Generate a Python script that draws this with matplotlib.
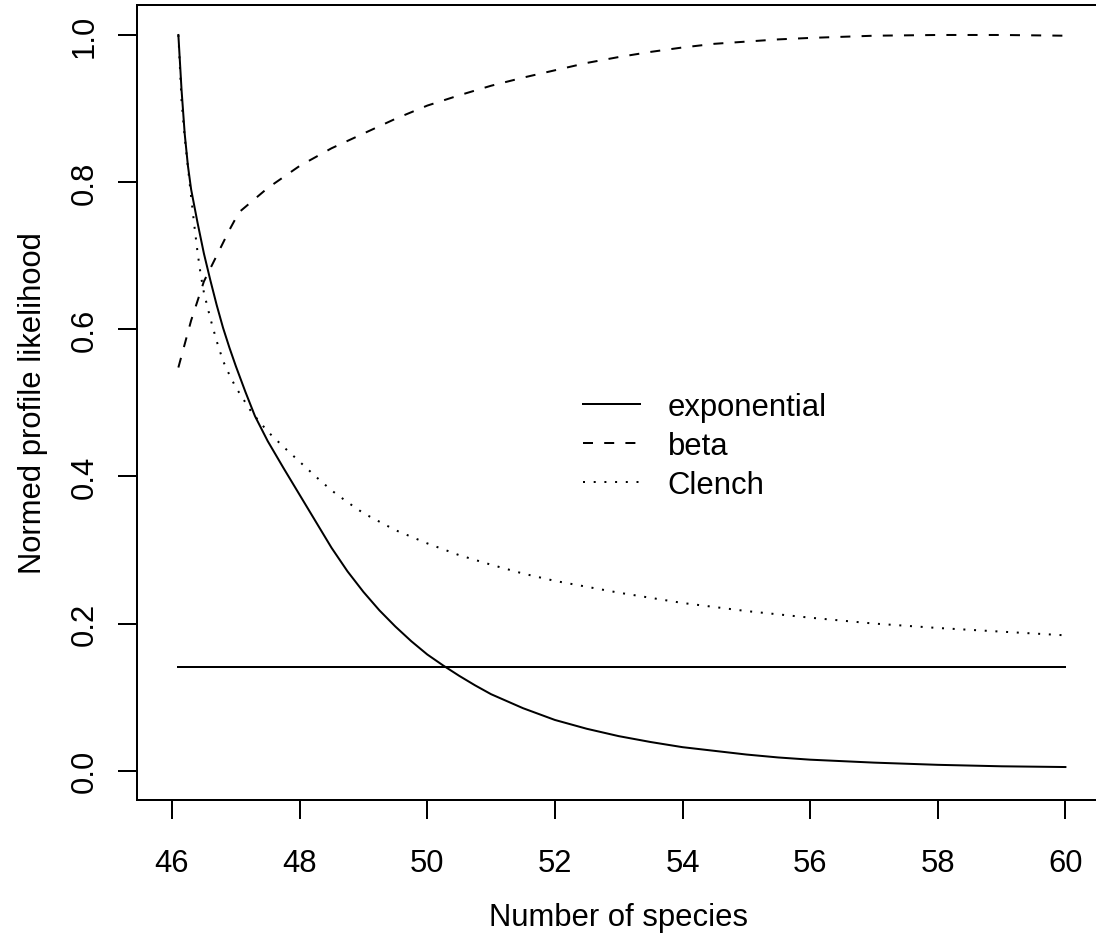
import matplotlib
matplotlib.use("Agg")
import matplotlib.pyplot as plt

plt.rcParams['font.family'] = ['Liberation Sans', 'DejaVu Sans']

# ---- data ----
exp_x = [46.1, 46.15, 46.2, 46.25, 46.3, 46.4, 46.5, 46.6, 46.7, 46.8, 46.9, 47.0,
         47.15, 47.3, 47.5, 47.75, 48.0, 48.25, 48.5, 48.75, 49.0, 49.25, 49.5,
         49.75, 50.0, 50.25, 50.5, 50.75, 51.0, 51.5, 52.0, 52.5, 53.0, 53.5, 54.0,
         54.5, 55.0, 55.5, 56.0, 57.0, 58.0, 59.0, 60.0]
exp_y = [1.0, 0.925, 0.865, 0.822, 0.79, 0.745, 0.703, 0.667, 0.633, 0.602, 0.575,
         0.550, 0.515, 0.482, 0.448, 0.411, 0.375, 0.339, 0.303, 0.271, 0.243, 0.218,
         0.196, 0.176, 0.158, 0.143, 0.129, 0.116, 0.104, 0.085, 0.069, 0.057, 0.047,
         0.039, 0.032, 0.027, 0.022, 0.018, 0.015, 0.011, 0.008, 0.006, 0.005]

beta_x = [46.1, 46.3, 46.5, 46.7, 46.9, 47.05, 47.5, 48.0, 48.5, 49.0, 49.5, 50.0,
          50.5, 51.0, 51.5, 52.0, 52.5, 53.0, 53.5, 54.0, 54.5, 55.0, 55.5, 56.0,
          57.0, 58.0, 59.0, 60.0]
beta_y = [0.548, 0.612, 0.665, 0.70, 0.735, 0.759, 0.792, 0.822, 0.846, 0.866, 0.886,
          0.904, 0.918, 0.931, 0.942, 0.952, 0.962, 0.970, 0.977, 0.983, 0.988, 0.991,
          0.994, 0.996, 0.999, 1.0, 1.0, 0.999]

clench_x = [46.1, 46.15, 46.2, 46.25, 46.3, 46.35, 46.4, 46.45, 46.5, 46.6, 46.7,
            46.8, 46.9, 47.0, 47.25, 47.5, 47.75, 48.0, 48.25, 48.5, 48.75, 49.0,
            49.5, 50.0, 50.5, 51.0, 51.5, 52.0, 53.0, 54.0, 55.0, 56.0, 57.0, 58.0,
            59.0, 60.0]
clench_y = [1.0, 0.91, 0.86, 0.82, 0.78, 0.741, 0.705, 0.674, 0.65, 0.615, 0.584,
            0.557, 0.538, 0.521, 0.487, 0.461, 0.44, 0.42, 0.40, 0.381, 0.365, 0.35,
            0.327, 0.309, 0.293, 0.28, 0.268, 0.258, 0.242, 0.228, 0.217, 0.208, 0.200,
            0.194, 0.189, 0.184]

cutoff_x = [46.1, 60.0]
cutoff_y = [0.141, 0.141]

x_ticks = [46, 48, 50, 52, 54, 56, 58, 60]
y_ticks = [0.0, 0.2, 0.4, 0.6, 0.8, 1.0]
legend_labels = ["exponential", "beta", "Clench"]

# ---- figure ----
W, H = 1096, 937
fig = plt.figure(figsize=(W / 100, H / 100), dpi=100)
L, R, T, B = 136.7, 1100.7, 6.4, 800.7
ax = fig.add_axes([L / W, 1 - B / H, (R - L) / W, (B - T) / H])

lw = 1.44
fs = 22.3
h1, = ax.plot(exp_x, exp_y, color='black', lw=lw, linestyle='-')
h2, = ax.plot(beta_x, beta_y, color='black', lw=lw, linestyle=(0, (5.0, 5.6)))
h3, = ax.plot(clench_x, clench_y, color='black', lw=lw, linestyle=(0, (1.0, 4.35)))
ax.plot(cutoff_x, cutoff_y, color='black', lw=lw)

ax.set_xlim(45.447, 60.553)
ax.set_ylim(-0.0394, 1.0402)
ax.set_xticks(x_ticks)
ax.set_xticklabels([str(v) for v in x_ticks])
ax.set_yticks(y_ticks)
ax.set_yticklabels([f"{v:.1f}" for v in y_ticks], rotation=90, va='center')

for s in ax.spines.values():
    s.set_linewidth(lw)
ax.tick_params(axis='both', length=13.7, width=lw, labelsize=fs, direction='out')
ax.tick_params(axis='x', pad=21)
ax.tick_params(axis='y', pad=13)

ax.set_xlabel("Number of species", fontsize=fs)
ax.set_ylabel("Normed profile likelihood", fontsize=fs)
ax.xaxis.set_label_coords(0.5, -0.1288)
ax.yaxis.set_label_coords(-0.0918, 0.5)

ax.legend([h1, h2, h3], legend_labels, loc='center left',
          bbox_to_anchor=(582.7 / W, 1 - 447 / H), bbox_transform=fig.transFigure,
          frameon=False, fontsize=fs, handlelength=1.84, handletextpad=0.9,
          labelspacing=0.28, borderpad=0, borderaxespad=0)

fig.savefig("out.png", dpi=100)
